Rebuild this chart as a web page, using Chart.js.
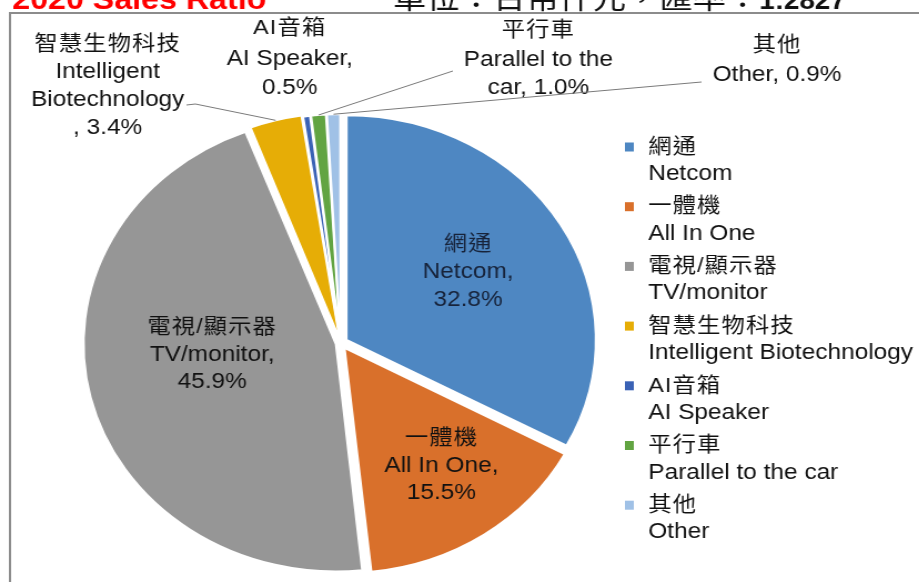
<!DOCTYPE html>
<html lang="zh-Hant">
<head>
<meta charset="UTF-8">
<title>2020 Sales Ratio</title>
<script src="https://cdn.jsdelivr.net/npm/chart.js"></script>
<style>
    html, body {
        margin: 0;
        padding: 0;
        background: #fff;
        overflow: hidden;
    }
    /* the source picture is stretched sideways, so the whole stage is too */
    .stage {
        width: 828px;
        height: 582px;
        transform: scaleX(1.11);
        transform-origin: 0 0;
    }
</style>
</head>
<body>
<div class="stage"><canvas id="salesPie" width="828" height="582"></canvas></div>

<script>
// categories and values
const namesZh = ['網通', '一體機', '電視/顯示器', '智慧生物科技', 'AI音箱', '平行車', '其他'];
const namesEn = ['Netcom', 'All In One', 'TV/monitor', 'Intelligent Biotechnology', 'AI Speaker', 'Parallel to the car', 'Other'];
const shares = [32.8, 15.5, 45.9, 3.4, 0.5, 1.0, 0.9];
const sliceColors = ['#4e87c2', '#d9702b', '#969696', '#e6ad06', '#3a62b5', '#62a442', '#a0c1e6'];
// explode distance per slice (Chart.js moves a slice by offset / 4)
const sliceOffsets = [24, 24, 18, 14, 10, 10, 10];

// how each data label is broken into lines ({zh}, {en}, {p} are filled in)
const labelLines = [
    ['{zh}', '{en},', '{p}'],
    ['{zh}', '{en},', '{p}'],
    ['{zh}', '{en},', '{p}'],
    ['{zh}', 'Intelligent', 'Biotechnology', ', {p}'],
    ['{zh}', '{en},', '{p}'],
    ['{zh}', 'Parallel to the', 'car, {p}'],
    ['{zh}', '{en}, {p}']
];

// label placement: inside labels sit along the slice's middle angle,
// outside labels are placed by hand and joined with a leader line
const labelPlace = [
    { inside: true, dAng: -0.8, dist: 0.575, gap: 27.5 },
    { inside: true, dAng: -2.5, dist: 0.655, gap: 27.5 },
    { inside: true, dAng: 8, dist: 0.50, gap: 27.5 },
    { x: 97, ys: [44, 72, 100, 128], leader: [[168, 105], [176, 104]] },
    { x: 261, ys: [28, 59, 88] },
    { x: 485, ys: [30, 60, 88], leader: [[408, 71]] },
    { x: 700, ys: [45, 75], leader: [[632, 82]] }
];

const latinFont = '"Liberation Sans", Arial, sans-serif';
const cjkFont = '"Noto Sans CJK TC", "Noto Sans CJK SC", sans-serif';
const hasCjk = s => /[\u3000-\u9fff\uff00-\uffef]/.test(s);

function drawText(ctx, s, x, y) {
    if (hasCjk(s)) {
        ctx.font = '21px "Liberation Sans", ' + cjkFont;
        ctx.letterSpacing = '1px';
    } else {
        ctx.font = '22px ' + latinFont;
        ctx.letterSpacing = '0px';
    }
    ctx.fillText(s, x, y);
}

const pieExtras = {
    id: 'pieExtras',
    beforeDraw(chart) {
        const ctx = chart.ctx;
        ctx.save();
        // headings (cut off at the top, like the source)
        ctx.textAlign = 'left';
        ctx.textBaseline = 'alphabetic';
        ctx.fillStyle = '#ff0000';
        ctx.font = 'bold 29px ' + latinFont;
        ctx.fillText('2020 Sales Ratio', 11, 9);
        ctx.fillStyle = '#111';
        ctx.font = '30px ' + cjkFont;
        const unit = '單位：台幣仟元，匯率：';
        ctx.fillText(unit, 354, 7.5);
        const w = ctx.measureText(unit).width;
        ctx.font = 'bold 25px ' + latinFont;
        ctx.fillText('1:2827', 354 + w, 9);
        // frame
        ctx.strokeStyle = '#8c8c8c';
        ctx.lineWidth = 2;
        ctx.beginPath();
        ctx.moveTo(9, 600);
        ctx.lineTo(9, 13);
        ctx.lineTo(840, 13);
        ctx.stroke();
        ctx.restore();
    },
    afterDatasetsDraw(chart) {
        const ctx = chart.ctx;
        const meta = chart.getDatasetMeta(0);
        ctx.save();
        ctx.textAlign = 'center';
        ctx.textBaseline = 'middle';

        meta.data.forEach((arc, i) => {
            const p = arc.getProps(['x', 'y', 'startAngle', 'endAngle', 'outerRadius', 'circumference'], true);
            const shift = (arc.options.offset || 0) / 4;
            const fix = 1 - Math.sin(Math.min(Math.PI, p.circumference));
            const rOut = p.outerRadius + shift * fix;
            const mid = (p.startAngle + p.endAngle) / 2;
            const ox = p.x + Math.cos(mid) * shift;
            const oy = p.y + Math.sin(mid) * shift;
            const pct = shares[i].toFixed(1) + '%';
            const lines = labelLines[i].map(t => t.replace('{zh}', namesZh[i]).replace('{en}', namesEn[i]).replace('{p}', pct));
            const place = labelPlace[i];

            if (place.inside) {
                const a = mid + place.dAng * Math.PI / 180;
                const r = p.outerRadius * place.dist;
                const cx = ox + Math.cos(a) * r;
                const cy = oy + Math.sin(a) * r;
                ctx.fillStyle = i === 0 ? '#17233a' : '#111';
                lines.forEach((s, k) => drawText(ctx, s, cx, cy + (k - (lines.length - 1) / 2) * place.gap));
            } else {
                if (place.leader) {
                    const ex = ox + Math.cos(mid) * rOut;
                    const ey = oy + Math.sin(mid) * rOut;
                    ctx.strokeStyle = '#7a7a7a';
                    ctx.lineWidth = 1;
                    ctx.beginPath();
                    place.leader.forEach((pt, k) => k ? ctx.lineTo(pt[0], pt[1]) : ctx.moveTo(pt[0], pt[1]));
                    ctx.lineTo(ex, ey);
                    ctx.stroke();
                }
                ctx.fillStyle = '#111';
                lines.forEach((s, k) => drawText(ctx, s, place.x, place.ys[k]));
            }
        });

        // legend on the right
        const legendX = 563, textX = 584, top = 147, step = 59.7, lineGap = 27;
        ctx.textAlign = 'left';
        namesZh.forEach((zh, i) => {
            const y = top + i * step;
            ctx.fillStyle = sliceColors[i];
            ctx.fillRect(legendX, y - 4.5, 8, 9);
            ctx.fillStyle = '#111';
            drawText(ctx, zh, textX, y);
            drawText(ctx, namesEn[i], textX, y + lineGap);
        });
        ctx.restore();
    }
};

new Chart(document.getElementById('salesPie'), {
    type: 'pie',
    data: {
        labels: namesEn,
        datasets: [{
            data: shares,
            backgroundColor: sliceColors,
            borderColor: '#ffffff',
            borderWidth: 2,
            offset: sliceOffsets
        }]
    },
    options: {
        responsive: false,
        animation: false,
        events: [],
        radius: 224,
        layout: { padding: { left: 0, right: 214, top: 104, bottom: 0 } },
        plugins: {
            legend: { display: false },
            tooltip: { enabled: false }
        }
    },
    plugins: [pieExtras]
});
</script>
</body>
</html>
